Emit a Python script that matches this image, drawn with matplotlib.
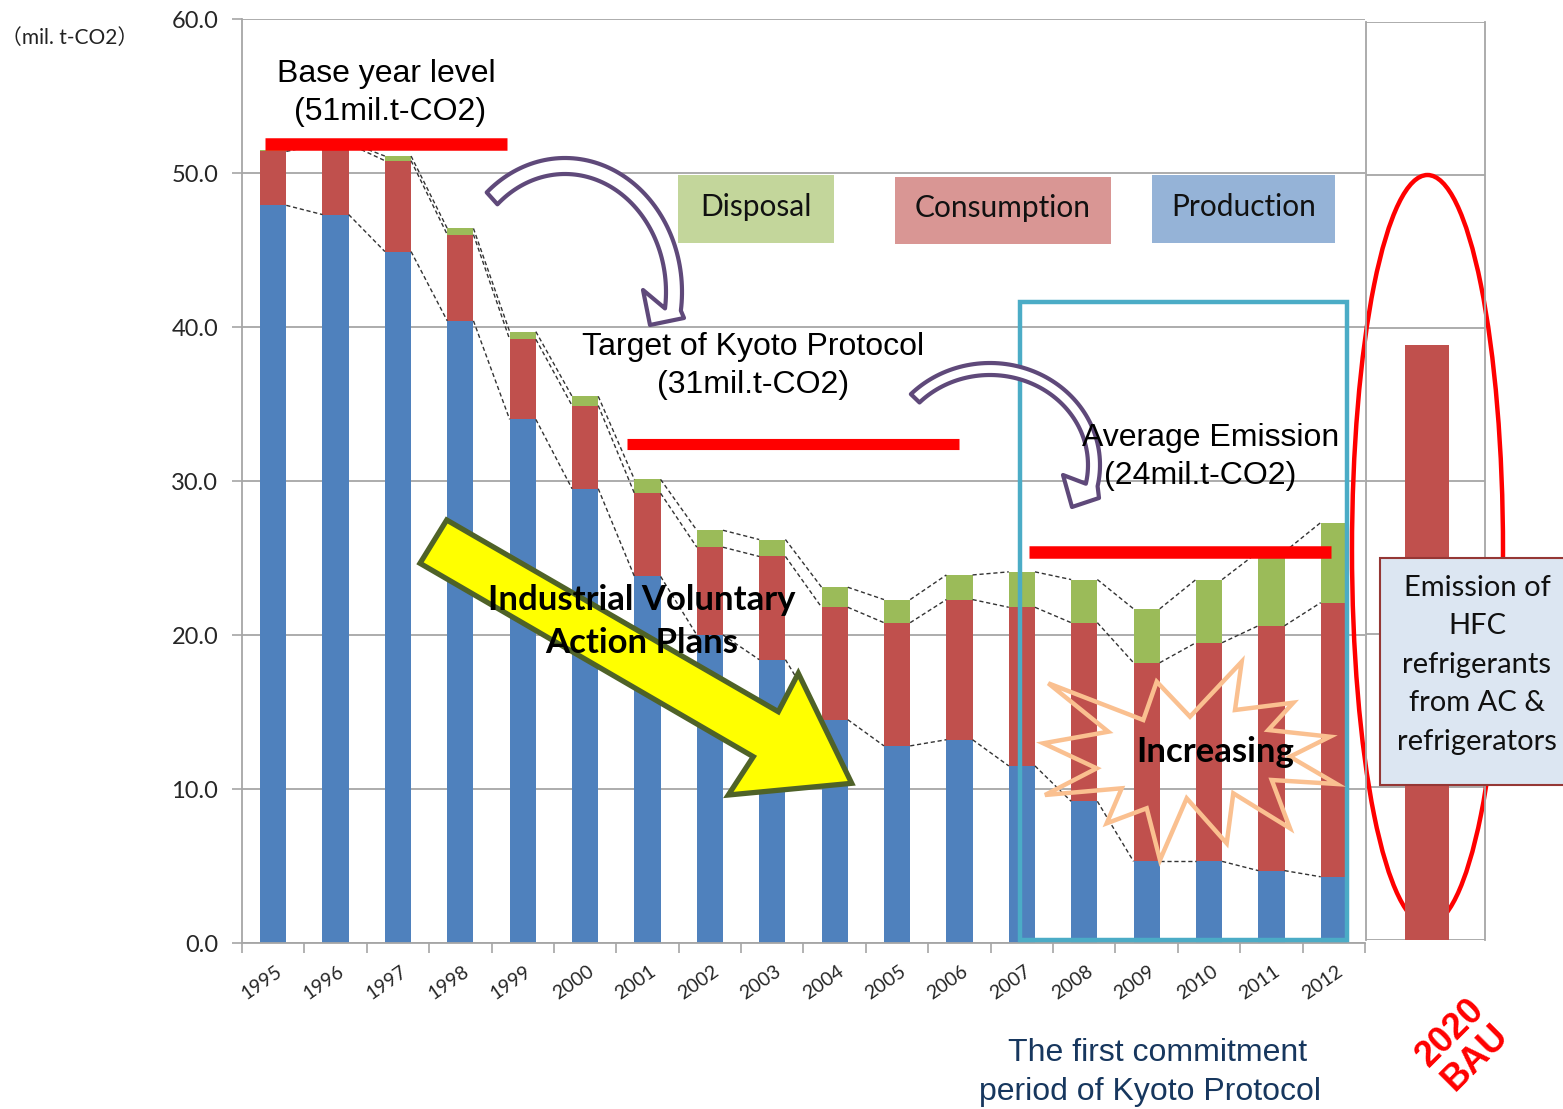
import numpy as np
import matplotlib
matplotlib.use('Agg')
import matplotlib.pyplot as plt
from matplotlib.patches import Rectangle, Polygon, Ellipse
from matplotlib.transforms import Affine2D, ScaledTranslation

# ---------------- data ----------------
years = [str(y) for y in range(1995, 2013)]
production = [47.9, 47.3, 44.9, 40.4, 34.0, 29.5, 23.8, 20.0, 18.4, 14.5,
              12.8, 13.2, 11.5, 9.2, 5.3, 5.3, 4.7, 4.3]
consumption = [3.5, 4.6, 5.9, 5.6, 5.2, 5.4, 5.4, 5.7, 6.7, 7.3,
               8.0, 9.1, 10.3, 11.6, 12.9, 14.2, 15.9, 17.8]
disposal = [0.1, 0.1, 0.3, 0.4, 0.5, 0.6, 0.9, 1.1, 1.1, 1.3,
            1.5, 1.6, 2.3, 2.8, 3.5, 4.1, 4.8, 5.2]
bau_label = "2020\nBAU"
bau_value = 38.9
yticks = [0, 10, 20, 30, 40, 50, 60]
base_level = 51.9
target_level = 32.4
average_level = 25.4

C_BLUE, C_RED, C_GREEN = '#4f81bd', '#c0504d', '#9bbb59'
GRID = '#a6a6a6'
W, H = 1563, 1109

fig = plt.figure(figsize=(W / 100, H / 100), dpi=100)
PX = Affine2D().scale(1 / W, -1 / H).translate(0, 1) + fig.transFigure

SANS_C = ['Lato', 'DejaVu Sans']
ARIAL = ['Liberation Sans', 'DejaVu Sans']

# ---------------- main axes ----------------
ax = fig.add_axes([242 / W, 1 - 943 / H, (1365 - 242) / W, (943 - 19) / H])
ax.set_facecolor('none')
x = np.arange(len(years))
bw = 0.42
p = np.array(production)
c = np.array(consumption)
d = np.array(disposal)
ax.bar(x, p, bw, color=C_BLUE, zorder=2)
ax.bar(x, c, bw, bottom=p, color=C_RED, zorder=2)
ax.bar(x, d, bw, bottom=p + c, color=C_GREEN, zorder=2)

for lev in (p, p + c, p + c + d):
    for i in range(len(x) - 1):
        ax.plot([x[i] + bw / 2, x[i + 1] - bw / 2], [lev[i], lev[i + 1]],
                color='#333333', lw=1.0, ls=(0, (3, 2)), zorder=2.5)

ax.set_xlim(-0.5, len(years) - 0.5)
ax.set_ylim(0, 60)
ax.set_yticks(yticks)
ax.set_yticklabels([f"{v:.1f}" for v in yticks], fontsize=17, family=SANS_C, color='#262626')
ax.yaxis.grid(True, color=GRID, lw=1.3, zorder=0)
ax.set_axisbelow(True)
ax.tick_params(axis='y', length=7, width=1.2, color=GRID, pad=10)
ax.set_xticks(x)
ax.set_xticklabels(years, rotation=35, ha='right', va='top', rotation_mode='anchor',
                   fontsize=14, family=SANS_C, color='#262626')
ax.tick_params(axis='x', length=0, pad=14)
ax.set_xticks(np.arange(-0.5, len(years), 1.0), minor=True)
ax.tick_params(axis='x', which='minor', length=7, width=1.2, color=GRID)
for lab in ax.get_xticklabels():
    lab.set_transform(lab.get_transform() + ScaledTranslation(2 / 100, 0, fig.dpi_scale_trans))
for s in ('top', 'right'):
    ax.spines[s].set_visible(False)
for s in ('left', 'bottom'):
    ax.spines[s].set_color(GRID)
    ax.spines[s].set_linewidth(1.3)

# red reference lines
ax.plot([-0.13, 3.75], [base_level, base_level], color='#ff0000', lw=9, solid_capstyle='butt', zorder=4)
ax.plot([5.67, 11.0], [target_level, target_level], color='#ff0000', lw=8, solid_capstyle='butt', zorder=4)
ax.plot([12.12, 16.96], [average_level, average_level], color='#ff0000', lw=9, solid_capstyle='butt', zorder=4)

# cyan commitment period box
ax.add_patch(Rectangle((11.97, 0.2), 17.21 - 11.97, 41.6 - 0.2, fill=False,
                       edgecolor='#4bacc6', lw=3.2, zorder=4))

# yellow arrow
yarrow = [(446.7, 520), (778.3, 711.7), (798.3, 673.3), (851.7, 783.3),
          (728.3, 795), (753.3, 756.7), (420, 563.3)]
ax.add_patch(Polygon(yarrow, closed=True, transform=PX, facecolor='#ffff00',
                     edgecolor='#4f6228', lw=3.8, joinstyle='miter', clip_on=False, zorder=5))


def curved_arrow(cx, cy, a, b, hw, th0, th1, head):
    t = np.radians(np.linspace(th0, th1, 80))
    outer = list(zip(cx + (a + hw) * np.cos(t), cy - (b + hw) * np.sin(t)))
    inner = list(zip(cx + (a - hw) * np.cos(t[::-1]), cy - (b - hw) * np.sin(t[::-1])))
    pts = outer + head + inner
    return Polygon(pts, closed=True, transform=PX, facecolor='white', edgecolor='#5f497a',
                   lw=3.0, joinstyle='round', clip_on=False, zorder=6)


ax.add_patch(curved_arrow(565, 292, 109, 126, 8, 132, -8,
                          [(684, 318), (650, 325), (643, 290)]))
ax.add_patch(curved_arrow(990, 465, 104, 96, 6, 136, -12,
                          [(1099, 498), (1072, 507), (1063, 475)]))

# starburst
star = [(1048.3, 683.3), (1143.3, 720), (1156.7, 681.7), (1190, 716.7), (1241.7, 661.7),
        (1235, 710), (1293.3, 702.7), (1268.3, 730), (1330, 736.7), (1290, 756.7),
        (1336.7, 784), (1271.7, 780), (1290, 828.3), (1233.3, 793.3), (1226.7, 843.3),
        (1186.7, 798.3), (1160, 860), (1146.7, 808.3), (1106.7, 823.3), (1121.7, 788.3),
        (1045, 795), (1096.7, 768.3), (1043.3, 743.3), (1108.3, 731.7)]
ax.add_patch(Polygon(star, closed=True, transform=PX, fill=False, edgecolor='#fac090',
                     lw=3.2, joinstyle='miter', clip_on=False, zorder=5))

# legend-like boxes
for (x0, y0, x1, y1, col, txt) in [(678, 175, 834, 243, '#c3d69b', 'Disposal'),
                                   (895, 177, 1111, 244, '#d99694', 'Consumption'),
                                   (1152, 175, 1335, 243, '#95b3d7', 'Production')]:
    ax.add_patch(Rectangle((x0, y0), x1 - x0, y1 - y0, transform=PX, facecolor=col,
                           edgecolor='none', clip_on=False, zorder=5))
    fig.text((x0 + x1) / 2, (y0 + y1) / 2 - 2, txt, transform=PX, ha='center', va='center',
             fontsize=21.5, family=SANS_C, color='#111111', zorder=10)

# texts
def ptext(xp, yp, s, **kw):
    fig.text(xp, yp, s, transform=PX, ha='center', va='center', **kw)

ptext(386, 74, 'Base year level', fontsize=23, family=ARIAL)
ptext(390, 112, '(51mil.t-CO2)', fontsize=23, family=ARIAL)
ptext(753, 347, 'Target of Kyoto Protocol', fontsize=23, family=ARIAL)
ptext(753, 385, '(31mil.t-CO2)', fontsize=23, family=ARIAL)
ptext(1211, 438, 'Average Emission', fontsize=23, family=ARIAL)
ptext(1200, 476, '(24mil.t-CO2)', fontsize=23, family=ARIAL)
ptext(642, 600, 'Industrial Voluntary', fontsize=25, family=SANS_C, weight='bold')
ptext(642, 643, 'Action Plans', fontsize=25, family=SANS_C, weight='bold')
ptext(1215, 752, 'Increasing', fontsize=25, family=SANS_C, weight='bold')
ptext(70, 38, '（mil. t-CO2）', fontsize=15, family=['Lato', 'Noto Sans CJK JP'], color='#222222')
NARROW = ['Liberation Sans Narrow', 'Liberation Sans']
ptext(1158, 1053, 'The first commitment', fontsize=23, family=NARROW, color='#17375e')
ptext(1150, 1092, 'period of Kyoto Protocol', fontsize=23, family=NARROW, color='#17375e')

# ---------------- right panel (2020 BAU) ----------------
ax2 = fig.add_axes([1366 / W, 1 - 940 / H, 119 / W, 918 / H])
ax2.set_facecolor('none')
ax2.set_xlim(0, 1)
ax2.set_ylim(0, 60)
ax2.set_yticks(yticks)
ax2.yaxis.grid(True, color=GRID, lw=1.3)
ax2.set_axisbelow(True)
ax2.tick_params(left=False, bottom=False, labelleft=False, labelbottom=False)
for s in ('top', 'bottom'):
    ax2.spines[s].set_visible(False)
for s in ('left', 'right'):
    ax2.spines[s].set_color(GRID)
    ax2.spines[s].set_linewidth(1.3)
ax2.add_patch(Ellipse((1427.5, 550), 151, 750, transform=PX, fill=False, edgecolor='#ff0000',
                      lw=3.2, clip_on=False, zorder=1))
ax2.bar([0.513], [bau_value], 0.37, color=C_RED, zorder=2)
ax2.add_patch(Rectangle((1380, 558), 200, 227, transform=PX, facecolor='#dce6f2',
                        edgecolor='#953735', lw=1.5, clip_on=False, zorder=8))
for yy, s in zip([588, 626, 665, 703, 742],
                 ['Emission of', 'HFC', 'refrigerants', 'from AC &', 'refrigerators']):
    ax2.text(1477, yy, s, transform=PX, ha='center', va='center', fontsize=21,
             family=SANS_C, color='#111111', zorder=9, clip_on=False)
ax2.text(1463, 1045, bau_label, transform=PX, ha='center', va='center', rotation=45,
         fontsize=26, weight='bold', family=ARIAL, color='#ff0000', linespacing=1.0,
         clip_on=False, zorder=9)

fig.savefig('out.png', dpi=100)
